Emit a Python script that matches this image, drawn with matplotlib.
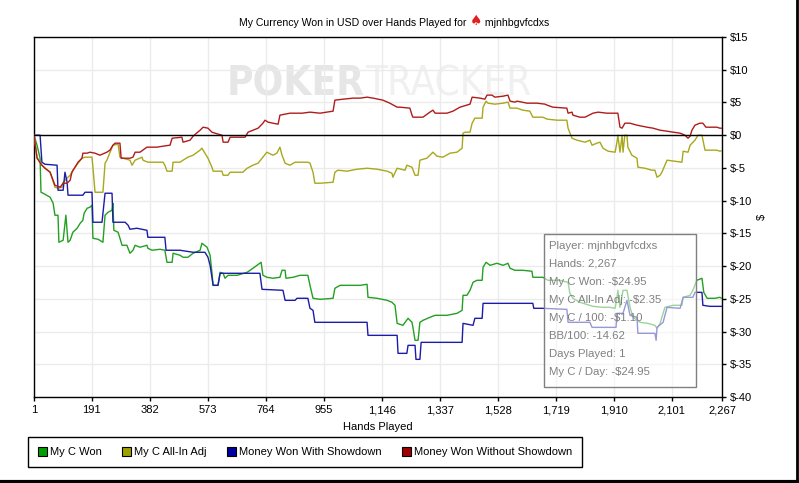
import os
import matplotlib.pyplot as plt
import matplotlib.font_manager as fm
from matplotlib.font_manager import FontProperties
from matplotlib.patches import Patch, Rectangle
from matplotlib.lines import Line2D

plt.rcParams['font.family'] = ['Liberation Sans', 'DejaVu Sans']

# (hand, dollars) points
won = [(1, 0), (11, -1.53), (21, -3.52), (24, -8.72), (31, -8.87), (54, -9.48), (64, -10.40),
       (70, -12.23), (80, -12.23), (83, -16.36), (97, -16.05), (106, -12.23), (113, -16.36),
       (120, -16.05), (129, -14.83), (143, -14.22), (153, -13.46), (162, -13.00), (166, -11.93),
       (176, -11.16), (185, -11.01), (192, -10.70), (195, -15.75), (212, -15.90), (228, -16.36),
       (235, -12.23), (245, -11.77), (258, -11.47), (261, -10.40), (264, -14.53), (278, -14.83),
       (291, -16.82), (307, -16.82), (317, -18.04), (327, -17.58), (334, -16.82), (350, -17.12),
       (373, -16.82), (376, -17.28), (390, -17.58), (416, -17.43), (432, -17.58), (439, -19.42),
       (456, -19.42), (459, -18.04), (482, -18.35), (492, -18.65), (508, -18.65), (525, -18.04),
       (548, -17.58), (554, -16.51), (571, -17.12), (581, -18.35), (587, -20.95), (591, -22.94),
       (607, -22.94), (614, -20.95), (624, -21.10), (630, -21.86), (640, -21.41), (670, -21.41),
       (703, -20.95), (722, -20.34), (745, -19.57), (749, -19.42), (755, -21.41), (768, -21.71),
       (788, -21.86), (811, -21.71), (818, -20.64), (828, -20.64), (831, -21.86), (854, -21.71),
       (877, -21.41), (903, -21.41), (910, -22.94), (920, -24.92), (943, -25.08), (986, -24.92),
       (992, -23.39), (1009, -22.94), (1042, -22.94), (1075, -22.94), (1098, -22.78), (1101, -24.77),
       (1131, -24.92), (1164, -25.23), (1180, -25.53), (1190, -25.99), (1197, -28.75), (1216, -29.05),
       (1233, -27.98), (1246, -28.59), (1249, -29.36), (1256, -31.34), (1266, -31.34), (1272, -28.59),
       (1282, -28.29), (1305, -27.83), (1322, -27.52), (1361, -27.52), (1394, -27.22), (1411, -26.76),
       (1414, -24.46), (1427, -24.46), (1437, -23.70), (1447, -22.48), (1460, -22.17), (1477, -22.17),
       (1480, -20.18), (1490, -19.42), (1503, -19.88), (1526, -19.57), (1546, -19.88), (1562, -19.57),
       (1569, -20.34), (1585, -20.64), (1611, -20.64), (1641, -20.79), (1644, -21.71), (1677, -21.71),
       (1694, -22.17), (1733, -22.17), (1760, -22.48), (1766, -24.16), (1776, -24.92), (1799, -25.53),
       (1842, -26.15), (1875, -26.30), (1898, -26.30), (1915, -26.45), (1921, -24.77), (1924, -23.70),
       (1931, -26.30), (1941, -23.70), (1954, -23.70), (1964, -26.30), (1974, -27.83), (1997, -28.59),
       (2023, -28.75), (2046, -29.05), (2053, -29.51), (2063, -28.75), (2079, -26.30), (2106, -25.99),
       (2135, -25.99), (2139, -24.77), (2162, -24.46), (2171, -23.70), (2184, -22.17), (2201, -21.86),
       (2207, -24.01), (2218, -24.92), (2244, -24.92), (2260, -24.77), (2267, -24.95)]

allin_adj = [(1, 0), (11, -3.36), (27, -4.59), (54, -5.66), (70, -7.95), (80, -8.10), (93, -7.95),
             (97, -7.19), (110, -6.57), (120, -6.12), (129, -5.35), (146, -4.28), (159, -3.52),
             (169, -3.36), (192, -3.36), (195, -4.89), (202, -8.72), (228, -8.72), (235, -4.28),
             (241, -3.82), (261, -1.53), (278, -1.38), (284, -3.36), (294, -3.52), (317, -3.82),
             (324, -4.59), (334, -3.82), (357, -3.36), (360, -3.82), (376, -4.13), (426, -4.13),
             (432, -4.59), (439, -5.50), (456, -5.50), (459, -4.13), (482, -4.13), (492, -3.82),
             (508, -3.36), (525, -3.06), (548, -2.29), (554, -1.99), (564, -2.75), (574, -3.52),
             (587, -4.89), (591, -5.50), (620, -5.50), (624, -6.12), (640, -6.12), (647, -5.66),
             (689, -5.66), (703, -5.05), (722, -4.59), (739, -4.28), (755, -3.36), (768, -2.60),
             (788, -3.06), (801, -2.75), (811, -1.83), (818, -3.06), (828, -4.28), (844, -4.59),
             (861, -4.13), (903, -4.13), (910, -4.28), (920, -5.66), (926, -7.34), (943, -7.34),
             (986, -7.19), (992, -5.66), (1002, -5.35), (1032, -5.50), (1065, -5.20), (1098, -5.05),
             (1131, -5.20), (1164, -5.50), (1180, -5.81), (1183, -6.42), (1197, -5.05), (1223, -5.35),
             (1229, -4.59), (1246, -4.89), (1256, -6.12), (1266, -6.12), (1272, -3.82), (1295, -3.52),
             (1315, -2.60), (1328, -3.21), (1348, -3.36), (1371, -2.75), (1394, -2.60), (1411, -1.99),
             (1414, 0.31), (1421, 0.46), (1437, 0.46), (1444, 1.83), (1453, 2.60), (1477, 2.60),
             (1480, 4.28), (1490, 5.20), (1496, 4.89), (1519, 4.74), (1546, 4.89), (1562, 5.05),
             (1569, 4.13), (1592, 4.13), (1611, 3.82), (1634, 3.67), (1644, 2.75), (1677, 2.75),
             (1691, 2.45), (1724, 2.29), (1756, 2.29), (1760, 1.07), (1773, -0.46), (1789, -0.76),
             (1816, -1.07), (1832, -0.76), (1839, -1.53), (1855, -1.22), (1865, -1.07), (1875, -1.99),
             (1892, -2.45), (1915, -2.60), (1921, -1.07), (1924, 0), (1931, -2.60), (1938, 0),
             (1941, -2.60), (1947, 0), (1954, 0), (1957, -1.83), (1970, -3.06), (1987, -3.52),
             (1990, -4.89), (2013, -5.05), (2036, -5.35), (2046, -5.35), (2053, -6.42), (2063, -6.12),
             (2069, -5.66), (2086, -3.82), (2112, -3.98), (2135, -4.13), (2139, -2.45), (2155, -2.60),
             (2162, -1.53), (2178, -0.76), (2188, 0), (2201, 0), (2211, -2.29), (2234, -2.29),
             (2250, -2.29), (2260, -2.45), (2267, -2.35)]

with_showdown = [(1, 0), (21, 0), (27, -4.13), (37, -4.44), (77, -4.59), (80, -8.41), (97, -8.41),
                 (103, -5.66), (110, -7.19), (113, -9.17), (162, -9.17), (169, -8.72), (192, -8.72),
                 (195, -13.30), (225, -13.30), (235, -8.87), (258, -8.87), (261, -13.30), (301, -13.30),
                 (311, -13.76), (317, -14.37), (340, -14.22), (373, -14.53), (376, -15.60), (432, -15.60),
                 (436, -17.58), (482, -17.58), (525, -17.89), (564, -17.89), (574, -18.65), (581, -19.88),
                 (591, -22.94), (607, -22.94), (614, -21.10), (745, -21.10), (752, -23.55), (821, -23.70),
                 (828, -25.23), (861, -25.23), (867, -24.92), (903, -24.92), (910, -26.45), (920, -26.76),
                 (926, -28.59), (1098, -28.59), (1101, -30.58), (1197, -30.58), (1200, -33.33),
                 (1229, -33.33), (1233, -32.11), (1256, -32.11), (1259, -34.25), (1272, -34.25),
                 (1276, -31.65), (1411, -31.65), (1414, -28.75), (1447, -29.05), (1453, -27.98),
                 (1477, -27.98), (1480, -25.69), (1644, -25.69), (1647, -26.45), (1677, -26.45),
                 (1756, -26.61), (1760, -28.59), (1832, -28.59), (1839, -29.36), (1918, -29.36),
                 (1921, -27.22), (1941, -27.22), (1954, -25.23), (1964, -27.52), (1987, -27.83),
                 (1990, -30.27), (2046, -30.27), (2050, -31.34), (2053, -29.36), (2073, -28.59),
                 (2086, -26.30), (2129, -26.45), (2139, -24.77), (2171, -24.77), (2178, -24.01),
                 (2201, -24.01), (2204, -25.99), (2227, -26.15), (2267, -26.15)]

without_showdown = [(1, 0), (11, -3.52), (27, -4.59), (37, -5.05), (54, -5.66), (70, -7.65), (87, -7.95),
                    (97, -7.34), (110, -7.34), (120, -6.88), (126, -5.66), (146, -4.13), (159, -3.52),
                    (162, -2.75), (176, -2.75), (185, -2.60), (202, -2.75), (218, -3.06), (241, -2.60),
                    (251, -2.29), (261, -1.53), (268, -1.22), (284, -1.22), (288, -3.52), (301, -3.52),
                    (317, -3.52), (327, -3.36), (334, -2.60), (350, -2.60), (373, -1.83), (406, -1.83),
                    (426, -1.68), (449, -1.53), (456, -0.46), (488, -0.31), (492, -1.07), (515, -0.76),
                    (525, -0.15), (548, 0.76), (558, 1.22), (574, 1.07), (587, 0.46), (597, 0.31),
                    (620, 0), (624, -1.07), (640, -1.07), (647, -0.31), (670, -0.31), (696, -0.31),
                    (706, 0.46), (722, 0.76), (739, 1.07), (755, 1.83), (762, 2.29), (772, 1.99),
                    (788, 1.83), (805, 1.68), (811, 3.06), (844, 3.36), (884, 3.36), (910, 3.52),
                    (943, 3.36), (986, 3.67), (992, 5.35), (1019, 5.50), (1052, 5.66), (1075, 5.66),
                    (1098, 5.81), (1118, 5.66), (1150, 5.35), (1173, 4.89), (1197, 4.28), (1206, 4.28),
                    (1239, 4.13), (1246, 3.06), (1249, 2.75), (1282, 2.75), (1305, 3.52), (1315, 3.82),
                    (1322, 3.36), (1361, 3.36), (1381, 3.67), (1404, 4.28), (1427, 4.59), (1437, 4.74),
                    (1444, 5.81), (1470, 5.66), (1486, 5.50), (1493, 6.12), (1509, 6.12), (1519, 5.81),
                    (1546, 5.96), (1562, 6.12), (1569, 5.20), (1585, 5.05), (1592, 5.20), (1625, 4.89),
                    (1658, 4.89), (1684, 4.74), (1691, 4.59), (1710, 4.28), (1756, 4.13), (1760, 3.36),
                    (1773, 3.52), (1776, 3.06), (1799, 2.75), (1816, 2.75), (1842, 3.36), (1859, 3.52),
                    (1888, 3.36), (1924, 3.36), (1931, 1.22), (1938, 1.07), (1947, 1.83), (1964, 1.83),
                    (1987, 1.53), (2020, 1.22), (2040, 1.07), (2063, 0.76), (2086, 0.61), (2106, 0.46),
                    (2129, 0.31), (2145, 0), (2155, -0.46), (2162, -0.15), (2168, 0.76), (2178, 1.53),
                    (2194, 1.83), (2204, 1.83), (2214, 1.22), (2237, 1.22), (2250, 1.22), (2260, 1.07),
                    (2267, 1.07)]

series_names = ['My C Won', 'My C All-In Adj', 'Money Won With Showdown', 'Money Won Without Showdown']
xticks = [1, 191, 382, 573, 764, 955, 1146, 1337, 1528, 1719, 1910, 2101, 2267]
yticks = [15, 10, 5, 0, -5, -10, -15, -20, -25, -30, -35, -40]
info_lines = ['Player: mjnhbgvfcdxs', 'Hands: 2,267', 'My C Won: -$24.95', 'My C All-In Adj: -$2.35',
              'My C / 100: -$1.10', 'BB/100: -14.62', 'Days Played: 1', 'My C / Day: -$24.95']

colors = ['#22a022', '#a8a81c', '#1c1ca8', '#b01c1c']
legend_colors = ['#00a000', '#a0a000', '#0000a0', '#a00000']

# condensed face only for the big watermark
font_files = {os.path.splitext(os.path.basename(f.fname))[0]: f.fname for f in fm.fontManager.ttflist}
narrow_names = ['LiberationSansNarrow-Regular', 'DejaVuSansCondensed', 'NotoSans-Condensed',
                'NotoSans-CondensedRegular', 'RobotoCondensed-Regular', 'OpenSans-CondensedRegular']
narrow_bold_names = ['LiberationSansNarrow-Bold', 'DejaVuSansCondensed-Bold', 'NotoSans-CondensedBold',
                     'RobotoCondensed-Bold', 'OpenSans-CondensedBold']
narrow_file = next((font_files[n] for n in narrow_names if n in font_files), None)
narrow_bold_file = next((font_files[n] for n in narrow_bold_names if n in font_files), None)
if narrow_file:
    wm_reg = FontProperties(fname=narrow_file, size=29)
else:
    wm_reg = FontProperties(family='Liberation Sans', size=25)
if narrow_bold_file:
    wm_bold = FontProperties(fname=narrow_bold_file, size=29)
else:
    wm_bold = FontProperties(family='Liberation Sans', weight='bold', size=25)

fig = plt.figure(figsize=(7.99, 4.83), dpi=100)
ax = fig.add_axes([34/799, 86/483, 688/799, 360/483])

# watermark
wm = ax.text(0.28, 0.867, 'POKER', transform=ax.transAxes, fontproperties=wm_bold,
             color='#e6e6e6', va='center', ha='left', zorder=0)
ax.annotate('TRACKER', xy=(1, 0), xycoords=wm, va='bottom', ha='left', fontproperties=wm_reg,
            color='#f0f0f0', zorder=0)

for data, c in zip([won, allin_adj, with_showdown, without_showdown], colors):
    h, v = zip(*data)
    ax.plot(h, v, color=c, lw=1.0, zorder=3)

ax.axhline(0, color='black', lw=1, zorder=4)

ax.set_xlim(1, 2267)
ax.set_ylim(-40, 15)
ax.set_xticks(xticks)
ax.set_xticklabels([f'{t:,}' for t in xticks])
ax.set_yticks(yticks)
ax.set_yticklabels([f'${t}' for t in yticks])
ax.yaxis.tick_right()
ax.yaxis.set_label_position('right')
ax.tick_params(axis='both', labelsize=8, length=3, width=1, color='black')
ax.tick_params(axis='y', pad=3)
ax.tick_params(axis='x', pad=3)
ax.grid(True, color='#ebebeb', lw=1, zorder=0)
ax.set_axisbelow(True)
for s in ax.spines.values():
    s.set_color('black')
    s.set_linewidth(1)
ax.set_xlabel('Hands Played', fontsize=8, labelpad=5)
ax.set_ylabel('$', fontsize=8, labelpad=3)

# stats box
ax.add_patch(Rectangle((0.741, 0.028), 0.221, 0.425, transform=ax.transAxes,
                       facecolor='white', alpha=0.55, edgecolor='none', zorder=5))
ax.add_patch(Rectangle((0.741, 0.028), 0.221, 0.425, transform=ax.transAxes,
                       facecolor='none', edgecolor='#808080', lw=1, zorder=6))
for i, line in enumerate(info_lines):
    ax.text(0.7485, (397 - 246 - 18*i) / 360, line, transform=ax.transAxes, fontsize=8.2,
            color='#808080', va='center', ha='left', zorder=7)

# title with red spade
t1 = fig.text(239/799, 1 - 23/483, 'My Currency Won in USD over Hands Played for ',
              fontsize=7.6, va='center', ha='left')
t2 = ax.annotate('\u2660', xy=(1, 0), xycoords=t1, va='bottom', ha='left', fontsize=10,
                 color='#e02020', family=['DejaVu Sans'], annotation_clip=False)
ax.annotate(' mjnhbgvfcdxs', xy=(1, 0), xycoords=t2, va='bottom', ha='left', fontsize=7.6,
            annotation_clip=False)

handles = [Patch(facecolor=c, edgecolor='black', lw=0.8) for c in legend_colors]
fig.legend(handles, series_names, loc='upper left', bbox_to_anchor=(28/799, 1 - 437/483),
           ncol=4, fontsize=8, frameon=True, fancybox=False, edgecolor='black', framealpha=1,
           handlelength=0.8, handleheight=0.8, handletextpad=0.3, columnspacing=1.8,
           borderpad=0.9, borderaxespad=0)

# outer frame on right and bottom
fig.add_artist(Line2D([0, 1], [0.003, 0.003], transform=fig.transFigure, color='black', lw=3))
fig.add_artist(Line2D([0.998, 0.998], [0, 1], transform=fig.transFigure, color='black', lw=2))

fig.savefig('out.png', dpi=100)
